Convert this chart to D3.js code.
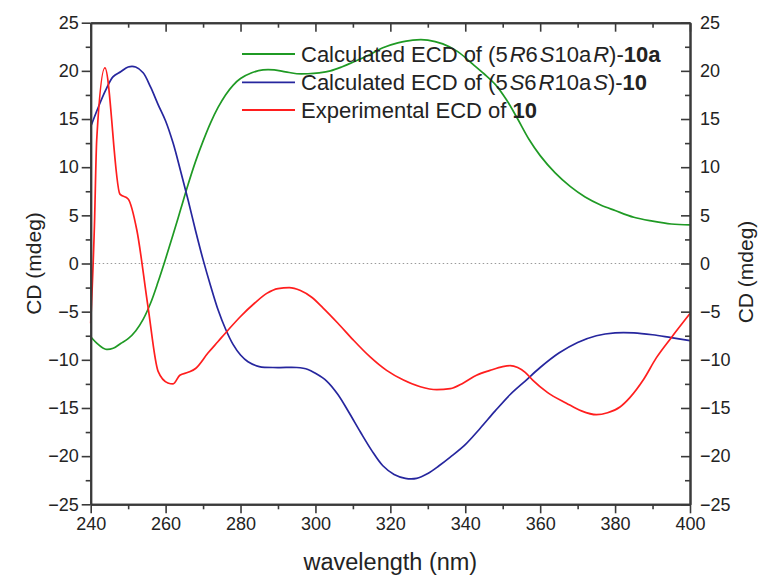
<!DOCTYPE html>
<html>
<head>
<meta charset="utf-8">
<script src="https://cdn.jsdelivr.net/npm/d3@7/dist/d3.min.js"></script>
<style>
  html, body { margin: 0; padding: 0; background: #fff; }
  svg { display: block; font-family: "Liberation Sans", Arial, sans-serif; }
</style>
</head>
<body>
<svg id="chart" width="762" height="579"></svg>
<script>
// Calculated ECD of (5R6S10aR)-10a
const greenWl = [240,242,244,246,248,250,252,254,256,258,260,262,264,266,268,270,272,274,276,278,280,283,286,289,292,295,298,301,304,307,310,314,318,322,326,330,334,338,342,345,348,351,354,357,360,364,368,372,376,380,385,390,395,400];
const greenCd = [-7.6,-8.4,-8.9,-8.8,-8.3,-7.8,-7.0,-5.8,-4.1,-1.9,0.5,3.0,5.6,8.2,10.6,12.7,14.6,16.2,17.5,18.5,19.2,19.8,20.1,20.1,19.9,19.7,19.7,19.8,20.0,20.4,20.9,21.6,22.4,22.9,23.2,23.2,22.8,22.0,20.7,19.7,18.6,17.0,15.0,12.9,11.2,9.4,8.0,6.9,6.1,5.5,4.8,4.4,4.1,4.0];

// Calculated ECD of (5S6R10aS)-10
const blueWl = [240,242,244,246,248,250,252,254,256,258,260,262,264,266,268,270,272,274,276,278,280,282,285,290,295,298,300,303,306,309,312,315,318,321,324,327,330,333,336,340,344,348,352,356,360,365,370,375,380,385,390,395,400];
const blueCd = [14.2,16.2,18.0,19.4,19.9,20.4,20.4,19.8,18.3,16.5,14.8,12.5,9.6,6.6,3.4,0.4,-2.3,-4.8,-6.8,-8.4,-9.5,-10.2,-10.7,-10.8,-10.8,-11.0,-11.4,-12.2,-13.6,-15.5,-17.5,-19.4,-21.0,-21.9,-22.3,-22.3,-21.8,-21.0,-20.1,-18.8,-17.1,-15.3,-13.6,-12.2,-10.8,-9.3,-8.2,-7.5,-7.2,-7.2,-7.4,-7.7,-8.0];

// Experimental ECD of 10
const redWl = [240,241,241.6,243.8,247.8,250,252.3,255.3,258,260.6,262,263.8,266,268,271.3,274,276.7,280,283.8,287,290,293,296,299,302,306,310,314.6,319,323.5,328,332.4,336,339.5,343,346.6,350,352,354,356,358,362,367,371,375,378,381.3,384,387.5,391,395,400];
const redCd = [-6.2,4.0,12.8,20.3,7.2,6.7,3.5,-4.5,-11.2,-12.4,-12.5,-11.6,-11.3,-10.9,-9.3,-8.1,-6.9,-5.5,-4.1,-3.1,-2.6,-2.5,-2.8,-3.5,-4.6,-6.2,-7.9,-9.7,-11.1,-12.1,-12.8,-13.1,-13.0,-12.4,-11.6,-11.1,-10.7,-10.6,-10.8,-11.3,-12.1,-13.4,-14.5,-15.3,-15.7,-15.5,-14.9,-13.9,-12.1,-9.8,-7.7,-5.2];

const xTicks = [240,260,280,300,320,340,360,380,400];
const yTicks = [-25,-20,-15,-10,-5,0,5,10,15,20,25];
const xMinor = [250,270,290,310,330,350,370,390];
const yMinor = [-22.5,-17.5,-12.5,-7.5,-2.5,2.5,7.5,12.5,17.5,22.5];

const series = [
  { wl: greenWl, cd: greenCd, color: "#1f9a24", smooth: true,
    label: [["Calculated ECD of (5",""],["R","i"],["6",""],["S","i"],["10a",""],["R","i"],[")-",""],["10a","b"]] },
  { wl: blueWl, cd: blueCd, color: "#26269e", smooth: true,
    label: [["Calculated ECD of (5",""],["S","i"],["6",""],["R","i"],["10a",""],["S","i"],[")-",""],["10","b"]] },
  { wl: redWl, cd: redCd, color: "#ff1e1e", smooth: false,
    label: [["Experimental ECD of ",""],["10","b"]] }
];

const svg = d3.select("#chart");
const L = 90.7, R = 690, T = 22.7, B = 504.3;
const x = d3.scaleLinear().domain([240, 400]).range([L, R]);
const y = d3.scaleLinear().domain([-25, 25]).range([B, T]);
const axisColor = "#3a3a3a";
const textColor = "#232323";

// zero reference line
svg.append("line")
  .attr("x1", x(240)).attr("x2", x(400))
  .attr("y1", y(0)).attr("y2", y(0))
  .attr("stroke", "#9a9a9a").attr("stroke-width", 1)
  .attr("stroke-dasharray", "1.5,2.5");

// curves: calculated spectra are smooth, the measured one keeps its sharp peak
const smoothLine = d3.line().curve(d3.curveCatmullRom.alpha(0.5));
const measLine = d3.line().curve(d3.curveMonotoneX);
series.forEach(s => {
  const pts = s.wl.map((w, i) => [x(w), y(s.cd[i])]);
  svg.append("path")
    .attr("d", (s.smooth ? smoothLine : measLine)(pts))
    .attr("fill", "none")
    .attr("stroke", s.color)
    .attr("stroke-width", 1.7)
    .attr("stroke-linejoin", "round");
});

// axes
function styleAxis(g) {
  g.selectAll(".domain").attr("stroke", axisColor).attr("stroke-width", 2);
  g.selectAll(".tick line").attr("stroke", axisColor).attr("stroke-width", 1.6);
  g.selectAll(".tick text").attr("fill", textColor)
    .style("font-size", "18px")
    .style("font-family", "'Liberation Sans', Arial, sans-serif");
}
const fmt = d3.format("d");

// bottom
svg.append("g").attr("transform", `translate(0,${B})`)
  .call(d3.axisBottom(x).tickValues(xTicks).tickFormat(fmt).tickSizeInner(9).tickSizeOuter(0).tickPadding(4))
  .call(styleAxis);
svg.append("g").attr("transform", `translate(0,${B})`)
  .call(d3.axisBottom(x).tickValues(xMinor).tickFormat("").tickSizeInner(5).tickSizeOuter(0))
  .call(styleAxis);
// top (inward ticks)
svg.append("g").attr("transform", `translate(0,${T})`)
  .call(d3.axisBottom(x).tickValues(xTicks).tickFormat("").tickSizeInner(9).tickSizeOuter(0))
  .call(styleAxis);
svg.append("g").attr("transform", `translate(0,${T})`)
  .call(d3.axisBottom(x).tickValues(xMinor).tickFormat("").tickSizeInner(5).tickSizeOuter(0))
  .call(styleAxis);
// left
svg.append("g").attr("transform", `translate(${L},0)`)
  .call(d3.axisLeft(y).tickValues(yTicks).tickFormat(fmt).tickSizeInner(9).tickSizeOuter(0).tickPadding(3))
  .call(styleAxis);
svg.append("g").attr("transform", `translate(${L},0)`)
  .call(d3.axisLeft(y).tickValues(yMinor).tickFormat("").tickSizeInner(5).tickSizeOuter(0))
  .call(styleAxis);
// right (inward ticks, labels outside)
const rightAx = svg.append("g").attr("transform", `translate(${R},0)`)
  .call(d3.axisLeft(y).tickValues(yTicks).tickFormat(fmt).tickSizeInner(9).tickSizeOuter(0))
  .call(styleAxis);
rightAx.selectAll(".tick text").attr("x", 10).attr("text-anchor", "start");
svg.append("g").attr("transform", `translate(${R},0)`)
  .call(d3.axisLeft(y).tickValues(yMinor).tickFormat("").tickSizeInner(5).tickSizeOuter(0))
  .call(styleAxis);

// axis titles
svg.append("text")
  .attr("transform", `translate(41,${(T + B) / 2}) rotate(-90)`)
  .attr("text-anchor", "middle").attr("fill", textColor)
  .style("font-size", "21px").text("CD (mdeg)");
svg.append("text")
  .attr("transform", `translate(753,272) rotate(-90)`)
  .attr("text-anchor", "middle").attr("fill", textColor)
  .style("font-size", "21px").text("CD (mdeg)");
svg.append("text")
  .attr("x", (L + R) / 2).attr("y", 570)
  .attr("text-anchor", "middle").attr("fill", textColor)
  .style("font-size", "23.5px").text("wavelength (nm)");

// legend
const legendY = [54, 82.3, 110];
series.forEach((s, i) => {
  const ly = legendY[i];
  svg.append("line")
    .attr("x1", 242).attr("x2", 295).attr("y1", ly).attr("y2", ly)
    .attr("stroke", s.color).attr("stroke-width", 1.8);
  const t = svg.append("text")
    .attr("x", 301).attr("y", ly + 7.5)
    .attr("fill", textColor).style("font-size", "22px");
  s.label.forEach(([str, st]) => {
    const sp = t.append("tspan").text(str);
    if (st === "i") sp.style("font-style", "italic").attr("dx", 2);
    if (st === "b") sp.style("font-weight", "bold");
  });
});
</script>
</body>
</html>
